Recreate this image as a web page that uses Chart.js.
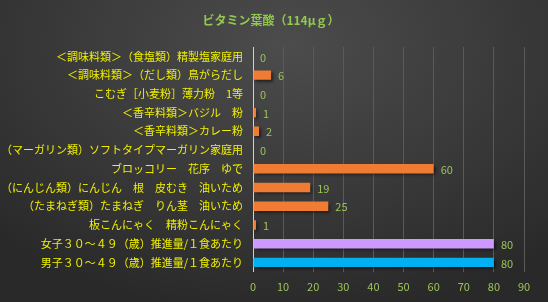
<!DOCTYPE html>
<html>
<head>
<meta charset="utf-8">
<script src="https://cdn.jsdelivr.net/npm/chart.js@4/dist/chart.umd.min.js"></script>
<style>
  html, body { margin: 0; padding: 0; }
  body {
    width: 548px; height: 302px; overflow: hidden;
    background: radial-gradient(ellipse 75% 90% at 52% 15%, #4c4c4c 0%, #3b3b3b 50%, #292929 100%);
  }
  canvas { display: block; }
</style>
</head>
<body>
<canvas id="chart" width="548" height="302"></canvas>
<script>
// ===== データ =====
const chartTitle = "ビタミン葉酸（114μｇ）";

const foodLabels = [
    "＜調味料類＞（食塩類）精製塩家庭用",
    "＜調味料類＞（だし類）鳥がらだし",
    "こむぎ［小麦粉］薄力粉　1等",
    "＜香辛料類＞バジル　粉",
    "＜香辛料類＞カレー粉",
    "（マーガリン類）ソフトタイプマーガリン家庭用",
    "ブロッコリー　花序　ゆで",
    "（にんじん類）にんじん　根　皮むき　油いため",
    "（たまねぎ類）たまねぎ　りん茎　油いため",
    "板こんにゃく　精粉こんにゃく",
    "女子３０～４９（歳）推進量/１食あたり",
    "男子３０～４９（歳）推進量/１食あたり",
];

const folateValues = [0, 6, 0, 1, 2, 0, 60, 19, 25, 1, 80, 80];

const xTicks = [0, 10, 20, 30, 40, 50, 60, 70, 80, 90];

// ===== 色 =====
const ORANGE = "#f07b32";
const barColors = foodLabels.map(l =>
    l.startsWith("女子") ? "#cc99ff" : l.startsWith("男子") ? "#00b0f0" : ORANGE
);

const FONT = "'Noto Sans CJK JP', 'Noto Sans', sans-serif";
const GREEN = "#9bc35a";

// ===== 影 =====
const shadowPlugin = {
    id: "barShadow",
    beforeDatasetsDraw(chart) {
        const ctx = chart.ctx;
        ctx.save();
        ctx.shadowColor = "rgba(0,0,0,0.55)";
        ctx.shadowBlur = 3;
        ctx.shadowOffsetX = 2;
        ctx.shadowOffsetY = 2;
    },
    afterDatasetsDraw(chart) {
        chart.ctx.restore();
    }
};

// ===== 値ラベル =====
const valueLabelPlugin = {
    id: "valueLabels",
    afterDatasetsDraw(chart) {
        const ctx = chart.ctx;
        const meta = chart.getDatasetMeta(0);
        ctx.save();
        ctx.fillStyle = GREEN;
        ctx.font = `11px ${FONT}`;
        ctx.textBaseline = "middle";
        ctx.textAlign = "left";
        meta.data.forEach((bar, i) => {
            ctx.fillText(String(folateValues[i]), bar.x + 7, bar.y + 1);
        });
        ctx.restore();
    }
};

// ===== タイトル（グラフ全体の中央） =====
const titlePlugin = {
    id: "centerTitle",
    afterDraw(chart) {
        const ctx = chart.ctx;
        ctx.save();
        ctx.fillStyle = "#92c850";
        ctx.font = `bold 12px ${FONT}`;
        ctx.textAlign = "center";
        ctx.textBaseline = "middle";
        ctx.fillText(chartTitle, 271, 20);
        ctx.restore();
    }
};

new Chart(document.getElementById("chart"), {
    type: "bar",
    data: {
        labels: foodLabels,
        datasets: [{
            data: folateValues,
            backgroundColor: barColors,
            borderWidth: 0,
            barPercentage: 0.5,
            categoryPercentage: 1.0,
        }],
    },
    options: {
        indexAxis: "y",
        responsive: false,
        animation: false,
        devicePixelRatio: 1,
        layout: { padding: { left: 0, right: 24, top: 47, bottom: 1 } },
        plugins: {
            legend: { display: false },
            tooltip: { enabled: false },
            title: { display: false },
        },
        scales: {
            x: {
                min: 0,
                max: 90,
                afterBuildTicks(scale) {
                    scale.ticks = xTicks.map(v => ({ value: v }));
                },
                ticks: {
                    color: GREEN,
                    font: { family: FONT, size: 11 },
                    padding: 8,
                    maxRotation: 0,
                },
                grid: { color: "#5a5a5a", drawTicks: false, lineWidth: 1 },
                border: { display: false },
            },
            y: {
                afterFit(scale) { scale.width = 253; },
                ticks: {
                    color: "#f0f000",
                    font: { family: FONT, size: 11 },
                    padding: 10,
                    autoSkip: false,
                },
                grid: { display: false, drawTicks: false },
                border: { display: true, color: "#d0d0d0", width: 1 },
            },
        },
    },
    plugins: [shadowPlugin, valueLabelPlugin, titlePlugin],
});
</script>
</body>
</html>
